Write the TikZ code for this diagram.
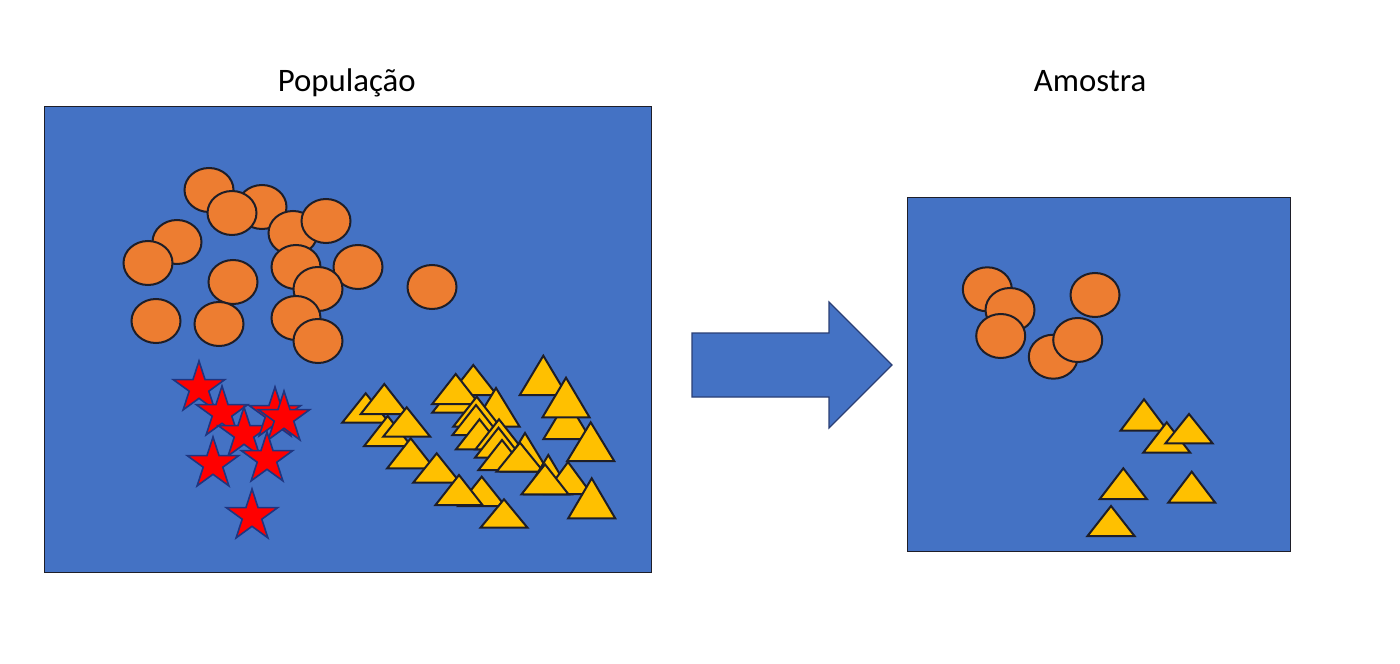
\documentclass[tikz,border=0pt]{standalone}
\usepackage{fontspec}
\setmainfont{Carlito}
\usetikzlibrary{shapes.geometric}
\definecolor{pptblue}{HTML}{4472C4}
\definecolor{pptorange}{HTML}{ED7D31}
\definecolor{pptyellow}{HTML}{FFC000}
\definecolor{pptred}{HTML}{FF0000}
\definecolor{darkline}{HTML}{1E1E28}
\definecolor{starline}{HTML}{1F3580}
\definecolor{arrowline}{HTML}{2A3F75}
\tikzset{
  bluebox/.style={fill=pptblue, draw=darkline, line width=0.5pt},
  ball/.style={fill=pptorange, draw=darkline, line width=1pt},
  tri/.style={fill=pptyellow, draw=darkline, line width=1pt, line join=miter},
  starshape/.style={star, star points=5, star point ratio=2.618, minimum size=27pt, inner sep=0pt, fill=pptred, draw=starline, line width=0.8pt},
  bigarrow/.style={fill=pptblue, draw=arrowline, line width=0.6pt},
  title/.style={anchor=base, font=\fontsize{16.4}{20}\selectfont, text=black}
}
\begin{document}
\begin{tikzpicture}[x=0.5pt, y=-0.5pt]
\useasboundingbox (0,0) rectangle (1400,663);
\fill[white] (0,0) rectangle (1400,663);

% titles
\node[title] (poptitle) at (346.7,91.5) {População};
\node[title] (samtitle) at (1090,91.5) {Amostra};

% boxes
\draw[bluebox] (44,107) rectangle (651,572);
\draw[bluebox] (907,198) rectangle (1290,551);

% arrow
\draw[bigarrow] (692,333) -- (829,333) -- (829,302) -- (892,365) -- (829,428) -- (829,397) -- (692,397) -- cycle;

% population circles
\foreach \x/\y in {209/190, 262/207, 232/213, 177/242, 148/263, 293/233, 326/221,
  233/282, 296/267, 358/267, 318/289, 432/287, 156/321, 219/324, 296/318, 318/341}
  \draw[ball] (\x,\y) ellipse [x radius=24.5, y radius=22];

% population stars
\foreach \x/\y [count=\i] in {199/388, 222/413, 244/434, 275/414, 284/418, 213/464, 267/459, 252/516}
  \node[starshape] (star\i) at (\x,\y) {};

% population triangles (apex x, apex y, height)
\foreach \x/\y/\h in {
  365.7/393.3/29.4, 384.3/384/30, 387.7/416/30, 406.7/407.3/29.4, 410.7/438.3/30, 436.7/453.3/29.4,
  473.3/365/30, 455.7/382.7/30, 455.7/374/30, 496/388/38.5, 476.7/396.7/30, 476/405/30,
  479.5/419.3/30, 499/419.3/30, 498.5/427.7/30, 502/440/30, 525/433/38.5, 520/442.7/29,
  481.7/476.7/29.4, 459/475/30, 504/499.3/28.4,
  543.3/355.7/39.3, 567/400/39, 566/377.7/39.6, 590.7/422.3/38.7,
  548.3/455/39.3, 568/462/32, 545/464.3/30, 591.7/478.3/40}
  \draw[tri] (\x,\y) -- (\x+23.5,\y+\h) -- (\x-23.5,\y+\h) -- cycle;

% sample circles
\foreach \x/\y in {987.3/289.3, 1010/310, 1000.7/336, 1095/295, 1053.3/356.7, 1077.7/340}
  \draw[ball] (\x,\y) ellipse [x radius=24.5, y radius=22];

% sample triangles
\foreach \x/\y/\h in {1144/399.3/31.4, 1166.7/422.3/30.4, 1189/414/29.3, 1123.3/468.3/30.7, 1191.7/471.7/31, 1111/506/30}
  \draw[tri] (\x,\y) -- (\x+23.5,\y+\h) -- (\x-23.5,\y+\h) -- cycle;
\end{tikzpicture}
\end{document}
